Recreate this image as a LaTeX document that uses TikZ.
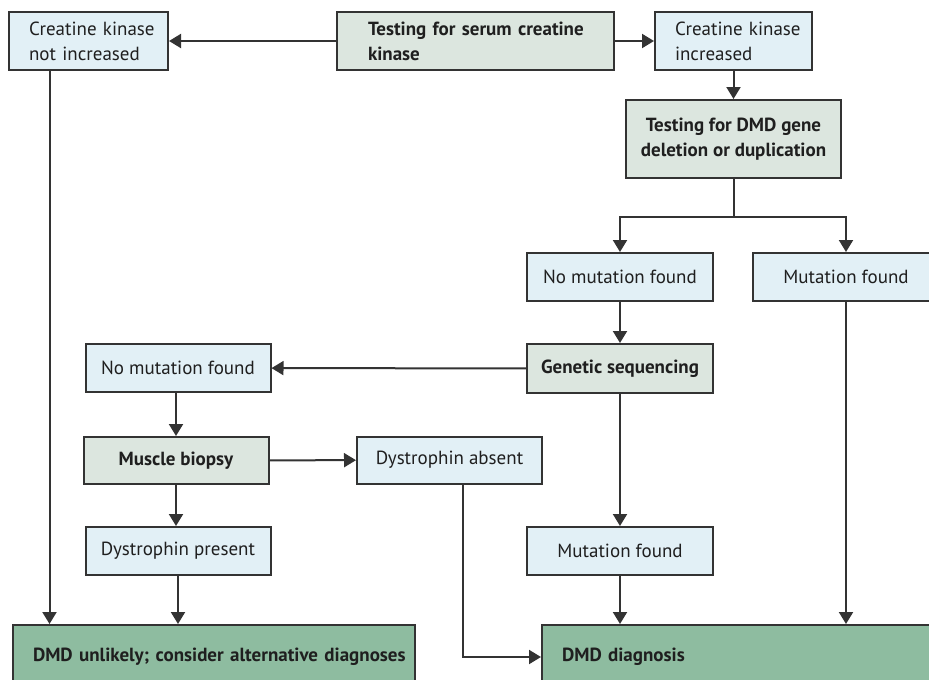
\documentclass[tikz,border=0pt]{standalone}
\usepackage{fontspec}
\setmainfont{PT Sans}
\usetikzlibrary{arrows.meta}
\definecolor{paleblue}{HTML}{E2F0F6}
\definecolor{greygreen}{HTML}{DCE6DF}
\definecolor{diaggreen}{HTML}{8EBCA0}
\definecolor{edge}{HTML}{333333}
\begin{document}
\begin{tikzpicture}[x=1pt,y=-1pt,>={Triangle[width=14pt,length=12pt]},
	box/.style={draw=edge,line width=2pt,inner sep=0pt,text=black!88,font=\fontsize{19}{25}\selectfont},
	result/.style={box,fill=paleblue,minimum width=186pt,minimum height=48pt},
	test/.style={box,fill=greygreen,font=\fontsize{19}{25}\selectfont\bfseries},
	leftbox/.style={align=left,inner xsep=#1,minimum height=58pt},
	outcome/.style={box,fill=diaggreen,anchor=north west,align=left,inner xsep=20pt,minimum height=64pt,font=\fontsize{19}{25}\selectfont\bfseries}]
	\useasboundingbox(0,0)rectangle(929,680);
	\clip(0,0)rectangle(929,680);
	\node(cknot)at(88.5,41)[result,leftbox=20pt,text width=119pt,minimum width=0pt]{\mbox{Creatine kinase}\\\mbox{not increased}};
	\node(serum)at(475.5,41)[test,leftbox=31pt,text width=215pt]{\mbox{Testing for serum creatine}\\kinase};
	\node(ckinc)at(733.5,41)[result,leftbox=20pt,text width=117pt,minimum width=0pt]{\mbox{Creatine kinase}\\increased};
	\node(dmdtest)at(733.5,139)[test,align=center,minimum width=215pt,minimum height=78pt]{Testing for DMD gene\\deletion or duplication};
	\node(nomutA)at(620,277)[result]{No mutation found};
	\node(mutA)at(846,277)[result]{Mutation found};
	\node(geneseq)at(620,368.5)[test,minimum width=186pt,minimum height=49pt]{Genetic sequencing};
	\node(nomutB)at(178,368)[result,minimum width=185pt]{No mutation found};
	\node(biopsy)at(176,460.5)[test,minimum width=185pt,minimum height=47pt]{Muscle biopsy};
	\node(absent)at(449.5,460)[result,minimum width=185pt,minimum height=47pt]{Dystrophin absent};
	\node(present)at(178,551)[result,minimum width=185pt]{Dystrophin present};
	\node(mutB)at(620,551)[result]{Mutation found};
	\node(unlikely)at(12,624)[outcome,text width=362pt]{\mbox{DMD unlikely; consider alternative diagnoses}};
	\node(diagnosis)at(541,624)[outcome,text width=400pt]{DMD diagnosis};
	\coordinate(split)at(733.5,217);
	\tikzset{every path/.style={->,draw=edge,line width=2pt}}
	\draw(serum)--(cknot);
	\draw(serum)--(ckinc);
	\draw(ckinc)--(dmdtest);
	\draw[-](dmdtest)--(split);
	\draw(split)-|(nomutA);
	\draw(split)-|(mutA);
	\draw(nomutA)--(geneseq);
	\draw(geneseq)--(nomutB);
	\draw(nomutB.south-|biopsy)--(biopsy);
	\draw(biopsy)--(absent);
	\draw(biopsy)--(biopsy.south|-present.north);
	\draw([xshift=13pt]absent.south)|-(diagnosis);
	\draw(geneseq)--(mutB);
	\draw(mutB)--(mutB|-diagnosis.north);
	\draw(mutA)--(mutA|-diagnosis.north);
	\draw([xshift=-39pt]cknot.south)--([xshift=-39pt]cknot.south|-unlikely.north);
	\draw(present)--(present|-unlikely.north);
\end{tikzpicture}
\end{document}
